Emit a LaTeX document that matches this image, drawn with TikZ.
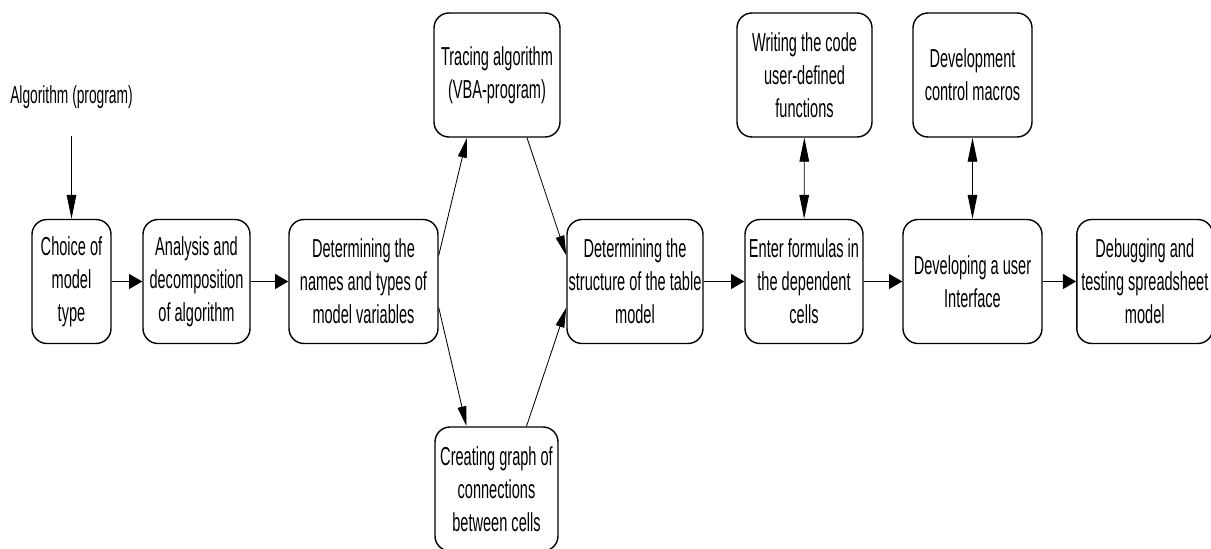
\documentclass[tikz,border=0pt]{standalone}
\usepackage{fontspec}
\setmainfont{Liberation Sans}[FakeStretch=0.56]
\usetikzlibrary{arrows.meta}

\begin{document}
\begin{tikzpicture}[
    box/.style={rectangle, draw, rounded corners=0.375cm, line width=1pt, minimum height=3.1cm, align=center, inner sep=0pt, font=\fontsize{18.5}{23.5}\selectfont},
    arrow/.style={-{Triangle[length=0.33cm, width=0.37cm]}, line width=1.4pt},
    vline/.style={-{Triangle[length=0.6cm, width=0.24cm]}, line width=0.6pt},
    darrow/.style={{Triangle[length=0.6cm, width=0.24cm]}-{Triangle[length=0.6cm, width=0.24cm]}, line width=0.6pt},
    slant/.style={-{Triangle[length=0.5cm, width=0.22cm]}, line width=0.6pt}
]
\clip (0,0) rectangle (30.275,13.7);

% Input
\node[inner sep=0pt, font=\fontsize{17.5}{21}\selectfont] (algo) at (1.7875,11.275) {Algorithm (program)};

% Main row
\node[box, minimum width=1.975cm] (choice) at (1.7875,6.6625) {Choice of\\model\\type};
\node[box, minimum width=2.675cm] (analysis) at (4.9125,6.6625) {Analysis and\\decomposition\\of algorithm};
\node[box, minimum width=3.725cm] (names) at (9.0875,6.6625) {Determining the\\names and types of\\model variables};
\node[box, minimum width=3.4cm] (structure) at (15.875,6.6625) {Determining the\\structure of the table\\model};
\node[box, minimum width=2.95cm] (enter) at (20.1,6.6625) {Enter formulas in\\the dependent\\cells};
\node[box, minimum width=3.475cm] (devui) at (24.3125,6.6625) {Developing a user\\Interface};
\node[box, minimum width=3.4cm] (debug) at (28.62,6.6625) {Debugging and\\testing spreadsheet\\model};

% Side boxes
\node[box, minimum width=3.15cm] (tracing) at (12.425,11.825) {Tracing algorithm\\(VBA-program)};
\node[box, minimum width=3.075cm] (creating) at (12.4125,1.475) {Creating graph of\\connections\\between cells};
\node[box, minimum width=3.375cm] (writing) at (20.1125,11.825) {Writing the code\\user-defined\\functions};
\node[box, minimum width=2.975cm] (devctrl) at (24.3125,11.825) {Development\\control macros};

% Connections
\draw[vline, shorten <=0.68cm] (algo) -- (choice);
\draw[arrow] (choice) -- (analysis);
\draw[arrow] (analysis) -- (names);
\draw[arrow] (structure) -- (enter);
\draw[arrow] (enter) -- (devui);
\draw[arrow] (devui) -- (debug);

\draw[slant] ([yshift=0.65cm]names.east) -- ([xshift=-0.75cm]tracing.south);
\draw[slant] ([xshift=0.75cm]tracing.south) -- ([yshift=0.65cm]structure.west);
\draw[slant] ([yshift=-0.65cm]names.east) -- ([xshift=-0.75cm]creating.north);
\draw[slant] ([xshift=0.75cm]creating.north) -- ([yshift=-0.65cm]structure.west);

\draw[darrow] (writing) -- (enter);
\draw[darrow] (devctrl) -- (devui);

\end{tikzpicture}
\end{document}
